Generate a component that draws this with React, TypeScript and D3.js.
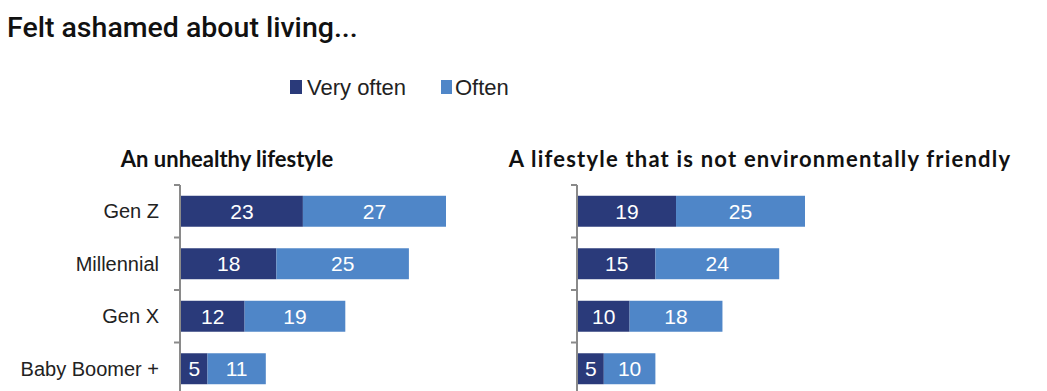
import React from "react";
import * as d3 from "d3";

const title = "Felt ashamed about living...";
const legendLabels = ["Very often", "Often"];
const categories = ["Gen Z", "Millennial", "Gen X", "Baby Boomer +"];
const panelTitles = ["An unhealthy lifestyle", "A lifestyle that is not environmentally friendly"];
const unhealthyVeryOften = [23, 18, 12, 5];
const unhealthyOften = [27, 25, 19, 11];
const envVeryOften = [19, 15, 10, 5];
const envOften = [25, 24, 18, 10];

const DARK = "#2a3a7a";
const LIGHT = "#4f86c8";
const AXIS = "#8a8a8a";
const SANS = "'Liberation Sans', Arial, sans-serif";

type PanelProps = {
  title: string;
  titleX: number;
  titleSpacing: number;
  axisX: number;
  domainMax: number;
  rangeWidth: number;
  veryOften: number[];
  often: number[];
  showLabels: boolean;
};

const band = d3.scaleBand<string>().domain(categories).range([185, 395]).padding(0);

function Panel(p: PanelProps) {
  const x = d3.scaleLinear().domain([0, p.domainMax]).range([p.axisX + 1, p.axisX + 1 + p.rangeWidth]);
  const step = band.step();
  const barH = step * 0.59;
  const ticks = categories.map((c) => band(c) as number).concat([395]);
  return (
    <g>
      <text x={p.titleX} y={166.5} textAnchor="middle" fontFamily="Lato, 'Open Sans', sans-serif" fontWeight={700} fontSize={22} letterSpacing={p.titleSpacing} fill="#111">
        {p.title}
      </text>
      {categories.map((c, i) => {
        const y0 = (band(c) as number) + (step - barH) / 2;
        const a = p.veryOften[i];
        const b = p.often[i];
        const cy = y0 + barH / 2;
        return (
          <g key={c}>
            <rect x={x(0)} y={y0} width={x(a) - x(0)} height={barH} fill={DARK} />
            <rect x={x(a)} y={y0} width={x(a + b) - x(a)} height={barH} fill={LIGHT} />
            <text x={(x(0) + x(a)) / 2} y={cy + 7.5} textAnchor="middle" fill="#fff" fontFamily={SANS} fontSize={21}>
              {a}
            </text>
            <text x={(x(a) + x(a + b)) / 2} y={cy + 7.5} textAnchor="middle" fill="#fff" fontFamily={SANS} fontSize={21}>
              {b}
            </text>
            {p.showLabels && (
              <text x={p.axisX - 21} y={cy + 7} textAnchor="end" fill="#222" fontFamily={SANS} fontSize={20}>
                {c}
              </text>
            )}
          </g>
        );
      })}
      <line x1={p.axisX} x2={p.axisX} y1={185} y2={395} stroke={AXIS} strokeWidth={2} />
      {ticks.map((t, i) => (
        <line key={i} x1={p.axisX - 6} x2={p.axisX} y1={t} y2={t} stroke={AXIS} strokeWidth={2} />
      ))}
    </g>
  );
}

export default function App() {
  return (
    <svg width={1047} height={391} style={{ position: "absolute", left: 0, top: 0, background: "#fff" }}>
      <rect width={1047} height={391} fill="#fff" />
      <text x={7} y={37} fontFamily="Roboto, sans-serif" fontWeight={500} fontSize={28.5} fill="#111">
        {title}
      </text>
      <g>
        <rect x={290} y={80} width={12} height={14} fill={DARK} />
        <text x={307} y={95} fontFamily={SANS} fontSize={22} fill="#222">{legendLabels[0]}</text>
        <rect x={441} y={80} width={11} height={14} fill={LIGHT} />
        <text x={455} y={95} fontFamily={SANS} fontSize={22} fill="#222">{legendLabels[1]}</text>
      </g>
      <Panel title={panelTitles[0]} titleX={227} titleSpacing={0} axisX={180} domainMax={50} rangeWidth={265} veryOften={unhealthyVeryOften} often={unhealthyOften} showLabels={true} />
      <Panel title={panelTitles[1]} titleX={760} titleSpacing={1.2} axisX={577} domainMax={44} rangeWidth={227} veryOften={envVeryOften} often={envOften} showLabels={false} />
    </svg>
  );
}
